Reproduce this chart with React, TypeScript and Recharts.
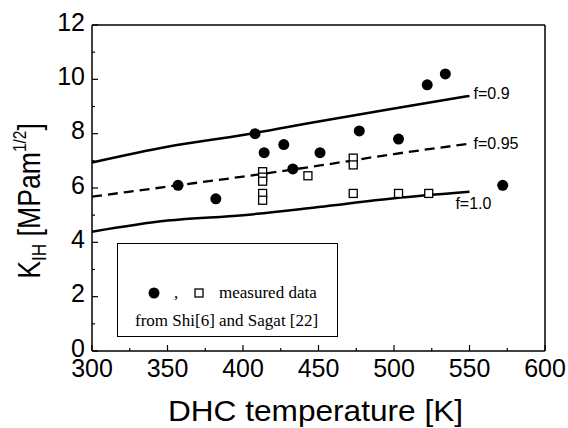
import { ComposedChart, Line, Scatter, XAxis, YAxis, ReferenceDot } from 'recharts';

// measured data (K_IH vs DHC temperature)
const filledPoints = [
  { x: 357, y: 6.1 }, { x: 382, y: 5.6 }, { x: 408, y: 8.0 }, { x: 414, y: 7.3 },
  { x: 427, y: 7.6 }, { x: 433, y: 6.7 }, { x: 451, y: 7.3 }, { x: 477, y: 8.1 },
  { x: 503, y: 7.8 }, { x: 522, y: 9.8 }, { x: 534, y: 10.2 }, { x: 572, y: 6.1 },
];
const openPoints = [
  { x: 413, y: 6.6 }, { x: 413, y: 6.4 }, { x: 413, y: 6.25 }, { x: 413, y: 5.8 },
  { x: 413, y: 5.55 }, { x: 443, y: 6.45 }, { x: 473, y: 7.1 }, { x: 473, y: 6.85 },
  { x: 473, y: 5.8 }, { x: 503, y: 5.8 }, { x: 523, y: 5.8 },
];

// model curves
const curveX = [300, 350, 400, 450, 500, 550];
const f09 = [6.94, 7.52, 7.95, 8.45, 8.93, 9.39];
const f095 = [5.68, 6.05, 6.42, 6.82, 7.25, 7.63];
const f10 = [4.39, 4.8, 5.0, 5.3, 5.62, 5.86];

const xTicks = [300, 325, 350, 375, 400, 425, 450, 475, 500, 525, 550, 575, 600];
const xMajor = [300, 350, 400, 450, 500, 550, 600];
const yTicks = [0, 1, 2, 3, 4, 5, 6, 7, 8, 9, 10, 11, 12];
const yMajor = [0, 2, 4, 6, 8, 10, 12];

const toSeries = (ys: number[]) => curveX.map((x, i) => ({ x, y: ys[i] }));

const SANS = '"Liberation Sans", Arial, sans-serif';
const SERIF = '"Liberation Serif", "Times New Roman", serif';

const BottomTick = ({ x, y, payload }: any) => {
  const major = xMajor.includes(payload.value);
  return (
    <g>
      <line x1={x} y1={y} x2={x} y2={y - (major ? 6 : 3)} stroke="#000" strokeWidth={1.2} />
      {major && (
        <text x={x} y={y + 26} textAnchor="middle" fontSize={25} fontFamily={SANS} fill="#000">
          {payload.value}
        </text>
      )}
    </g>
  );
};
const TopTick = ({ x, y, payload }: any) => (
  <line x1={x} y1={y} x2={x} y2={y + (xMajor.includes(payload.value) ? 6 : 3)} stroke="#000" strokeWidth={1.2} />
);
const LeftTick = ({ x, y, payload }: any) => {
  const major = yMajor.includes(payload.value);
  return (
    <g>
      <line x1={x} y1={y} x2={x + (major ? 6 : 3)} y2={y} stroke="#000" strokeWidth={1.2} />
      {major && (
        <text x={x - 7} y={y + 5.5} textAnchor="end" fontSize={25} fontFamily={SANS} fill="#000">
          {payload.value}
        </text>
      )}
    </g>
  );
};
const RightTick = ({ x, y, payload }: any) => (
  <line x1={x} y1={y} x2={x - (yMajor.includes(payload.value) ? 6 : 3)} y2={y} stroke="#000" strokeWidth={1.2} />
);

const CurveLabel = ({ text }: { text: string }) => (props: any) => {
  const vb = props.viewBox || {};
  return (
    <text x={vb.x + 4} y={vb.y + 6} fontSize={16} fontFamily={SANS} fill="#000">{text}</text>
  );
};

const measureShift = 3;
const XTitle = ({ viewBox }: any) => (
  <text
    transform={`translate(${viewBox.x + viewBox.width / 2 - measureShift}, 421) scale(1.09, 1)`}
    textAnchor="middle" fontSize={29} fontFamily={SANS} fill="#000"
  >
    DHC temperature [K]
  </text>
);

const YTitle = () => (
  <text transform="translate(40, 201) rotate(-90) scale(0.86, 1)" textAnchor="middle" fontSize={31} fontFamily={SANS} fill="#000">
    K
    <tspan fontSize={20} dy={6}>IH</tspan>
    <tspan dy={-6}> [MPam</tspan>
    <tspan fontSize={18} dy={-14}>1/2</tspan>
    <tspan dy={14}>]</tspan>
  </text>
);

const Dot = (p: any) => <circle cx={p.cx} cy={p.cy} r={5.5} fill="#000" />;
const Box = (p: any) => (
  <rect x={p.cx - 4} y={p.cy - 4} width={8} height={8} fill="#fff" stroke="#000" strokeWidth={1.3} />
);

const frame = { stroke: '#000', strokeWidth: 1.5 };

export default function App() {
  return (
    <div style={{ position: 'absolute', left: 0, top: 0, width: 568, height: 428, background: '#fff' }}>
      <ComposedChart width={568} height={428} margin={{ top: 24, right: 22, bottom: 76, left: 91 }}>
        <XAxis
          type="number" dataKey="x" domain={[300, 600]} ticks={xTicks} interval={0} height={1}
          tickSize={0} tickMargin={0} tickLine={false} tick={<BottomTick />}
          axisLine={frame} label={<XTitle />}
        />
        <XAxis
          xAxisId="top" orientation="top" type="number" dataKey="x" domain={[300, 600]} ticks={xTicks}
          interval={0} height={1} tickSize={0} tickMargin={0} tickLine={false} tick={<TopTick />}
          axisLine={frame}
        />
        <YAxis
          type="number" dataKey="y" domain={[0, 12]} ticks={yTicks} interval={0} width={1}
          tickSize={0} tickMargin={0} tickLine={false} tick={<LeftTick />}
          axisLine={frame} label={<YTitle />}
        />
        <YAxis
          yAxisId="right" orientation="right" type="number" domain={[0, 12]} ticks={yTicks} interval={0}
          width={1} tickSize={0} tickMargin={0} tickLine={false} tick={<RightTick />}
          axisLine={frame}
        />
        <Line data={toSeries(f09)} dataKey="y" type="monotone" stroke="#000" strokeWidth={2.5} dot={false} isAnimationActive={false} />
        <Line data={toSeries(f095)} dataKey="y" type="monotone" stroke="#000" strokeWidth={2.3} strokeDasharray="10 6" dot={false} isAnimationActive={false} />
        <Line data={toSeries(f10)} dataKey="y" type="monotone" stroke="#000" strokeWidth={2.5} dot={false} isAnimationActive={false} />
        <Scatter data={openPoints} dataKey="y" shape={Box} isAnimationActive={false} />
        <Scatter data={filledPoints} dataKey="y" shape={Dot} isAnimationActive={false} />
        <ReferenceDot x={550} y={9.5} r={0} stroke="none" label={CurveLabel({ text: 'f=0.9' })} />
        <ReferenceDot x={550} y={7.65} r={0} stroke="none" label={CurveLabel({ text: 'f=0.95' })} />
        <ReferenceDot x={538} y={5.45} r={0} stroke="none" label={CurveLabel({ text: 'f=1.0' })} />
      </ComposedChart>
      <div style={{ position: 'absolute', left: 117, top: 243, width: 219, height: 92, border: '1px solid #000', background: '#fff' }}>
        <svg width={219} height={92} style={{ display: 'block' }}>
          <circle cx={36} cy={49} r={5.5} fill="#000" />
          <text x={56} y={54} fontSize={17} fontFamily={SERIF} fill="#000">,</text>
          <rect x={77} y={45} width={8} height={8} fill="#fff" stroke="#000" strokeWidth={1.3} />
          <text x={101} y={54} fontSize={17} fontFamily={SERIF} fill="#000">measured data</text>
          <text x={17} y={82} fontSize={17} fontFamily={SERIF} fill="#000">from Shi[6] and Sagat [22]</text>
        </svg>
      </div>
    </div>
  );
}
